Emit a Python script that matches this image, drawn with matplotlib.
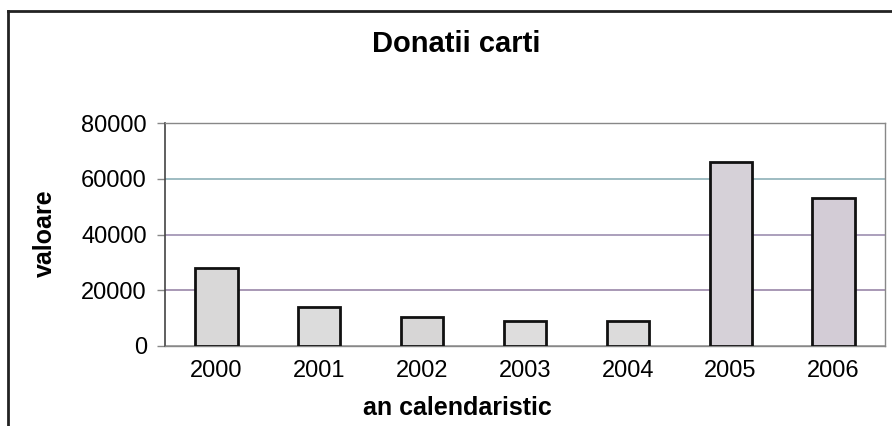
import matplotlib
matplotlib.use("Agg")
import matplotlib.pyplot as plt
from matplotlib.lines import Line2D

years = ["2000", "2001", "2002", "2003", "2004", "2005", "2006"]
values = [28000, 14000, 10500, 9000, 9000, 66000, 53000]
y_ticks = [0, 20000, 40000, 60000, 80000]

title = "Donatii carti"
x_label = "an calendaristic"
y_label = "valoare"

plt.rcParams["font.family"] = ["Liberation Sans", "DejaVu Sans"]

fig = plt.figure(figsize=(8.92, 4.26), dpi=100)
fig.patch.set_facecolor("white")
ax = fig.add_axes([0.185, 0.188, 0.807, 0.523])

bar_colors = ["#d9d8d8", "#dcdcdc", "#d7d6d6", "#dedddd", "#dcdbdb", "#d6d1d8", "#d3ccd6"]
positions = list(range(len(years)))
ax.bar(positions, values, width=0.41, color=bar_colors, edgecolor="#111111",
       linewidth=2.0, zorder=3)

ax.set_xlim(-0.5, len(years) - 0.5)
ax.set_ylim(0, 80000)
ax.set_xticks(positions)
ax.set_xticklabels(years)
ax.set_yticks(y_ticks)
ax.set_yticklabels([str(v) for v in y_ticks])
ax.tick_params(axis="x", length=0, pad=10, labelsize=17)
ax.tick_params(axis="y", length=6, width=1, color="#888888", pad=7, labelsize=17)

# horizontal gridlines, slightly tinted like the printed original
ax.yaxis.grid(True, linewidth=1.2, zorder=0)
grid_colors = ["#9a9a9a", "#9a86a8", "#9d8fb0", "#8eb0b8", "#b8c0a8"]
for line, c in zip(ax.get_ygridlines(), grid_colors):
    line.set_color(c)
ax.set_axisbelow(True)

for side in ("top", "right", "bottom"):
    ax.spines[side].set_linestyle((0, (1, 1)))
    ax.spines[side].set_color("#888888")
    ax.spines[side].set_linewidth(1.0)
ax.spines["left"].set_color("#444444")
ax.spines["left"].set_linewidth(1.2)

ax.set_xlabel(x_label, fontsize=18, fontweight="bold", va="center")
ax.xaxis.set_label_coords(0.406, -0.278)
ax.set_ylabel(y_label, fontsize=18, fontweight="bold", va="center")
ax.yaxis.set_label_coords(-0.167, 0.505)
fig.text(0.512, 0.897, title, ha="center", va="center", fontsize=21, fontweight="bold")

# outer chart frame (top and left edges)
fig.add_artist(Line2D([0.009, 1.0], [0.974, 0.974], color="#222222", linewidth=2.0))
fig.add_artist(Line2D([0.009, 0.009], [0.0, 0.974], color="#222222", linewidth=2.0))

fig.savefig("out.png", dpi=100, facecolor="white")
